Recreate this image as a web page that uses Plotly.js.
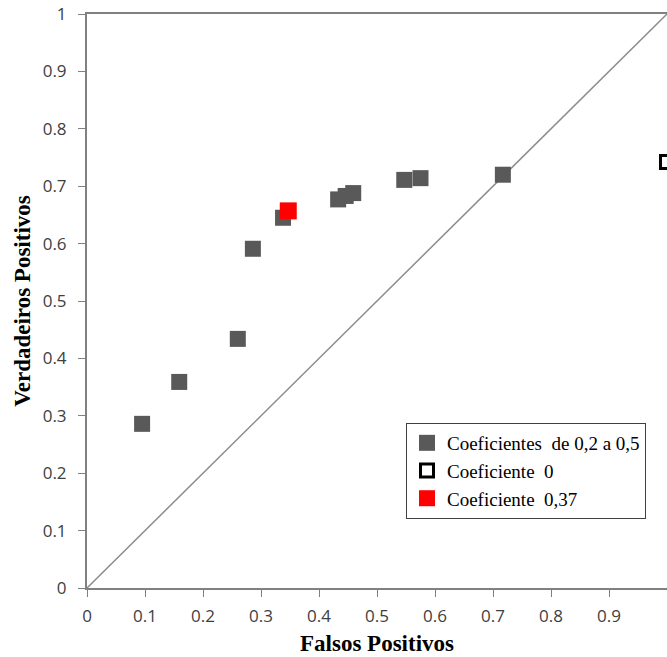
<!DOCTYPE html>
<html>
<head>
<meta charset="utf-8">
<script src="https://cdn.plot.ly/plotly-3.0.1.min.js"></script>
<style>html,body{margin:0;padding:0;background:#fff;}#chart{width:667px;height:657px;}</style>
</head>
<body>
<div id="chart"></div>
<script>
// Data
const grayX = [0.095, 0.159, 0.260, 0.286, 0.338, 0.433, 0.446, 0.459, 0.547, 0.575, 0.717];
const grayY = [0.286, 0.359, 0.434, 0.591, 0.645, 0.677, 0.683, 0.688, 0.711, 0.714, 0.720];
const zeroX = [1.0];
const zeroY = [0.742];
const redX = [0.347];
const redY = [0.657];
const diagX = [0, 1];
const diagY = [0, 1];
const tickVals = [0, 0.1, 0.2, 0.3, 0.4, 0.5, 0.6, 0.7, 0.8, 0.9, 1];
const tickText = ['0', '0.1', '0.2', '0.3', '0.4', '0.5', '0.6', '0.7', '0.8', '0.9', '1'];
const names = ['Coeficientes  de 0,2 a 0,5', 'Coeficiente  0', 'Coeficiente  0,37'];

const traces = [
  {x: diagX, y: diagY, mode: 'lines', line: {color: '#8c8c8c', width: 1.5}, showlegend: false, hoverinfo: 'skip'},
  {x: grayX, y: grayY, mode: 'markers', name: names[0],
   marker: {symbol: 'square', size: 16, color: '#595959', line: {width: 0}}},
  {x: zeroX, y: zeroY, mode: 'markers', name: names[1],
   marker: {symbol: 'square', size: 13, color: '#ffffff', line: {width: 3, color: '#000000'}}},
  {x: redX, y: redY, mode: 'markers', name: names[2],
   marker: {symbol: 'square', size: 17, color: '#ff0000', line: {width: 0}}}
];

const axisCommon = {
  range: [0, 1], tickvals: tickVals, ticktext: tickText,
  showgrid: false, zeroline: false, showline: true, linecolor: '#808080', linewidth: 2,
  ticks: 'outside', ticklen: 7, tickcolor: '#808080', tickwidth: 1,
  tickfont: {family: 'Open Sans, sans-serif', size: 17, color: '#404040'}
};

const layout = {
  width: 667, height: 657,
  margin: {l: 87, r: 0, t: 14, b: 69},
  paper_bgcolor: '#ffffff', plot_bgcolor: '#ffffff',
  xaxis: Object.assign({}, axisCommon, {
    mirror: true, ticklabelstandoff: 5,
    title: {text: 'Falsos Positivos', standoff: 8,
      font: {family: 'Liberation Serif, Times New Roman, serif', size: 23, color: '#000', weight: 'bold'}}
  }),
  yaxis: Object.assign({}, axisCommon, {
    mirror: false, ticklabelstandoff: 8,
    title: {text: 'Verdadeiros Positivos', standoff: 6,
      font: {family: 'Liberation Serif, Times New Roman, serif', size: 23, color: '#000', weight: 'bold'}}
  }),
  legend: {
    x: 0.55, y: 0.2875, xanchor: 'left', yanchor: 'top',
    bgcolor: '#ffffff', bordercolor: '#404040', borderwidth: 1,
    font: {family: 'Liberation Serif, Times New Roman, serif', size: 19, color: '#000'},
    tracegroupgap: 0, itemwidth: 30
  },
  showlegend: true
};

Plotly.newPlot('chart', traces, layout, {displayModeBar: false, staticPlot: true});
</script>
</body>
</html>
